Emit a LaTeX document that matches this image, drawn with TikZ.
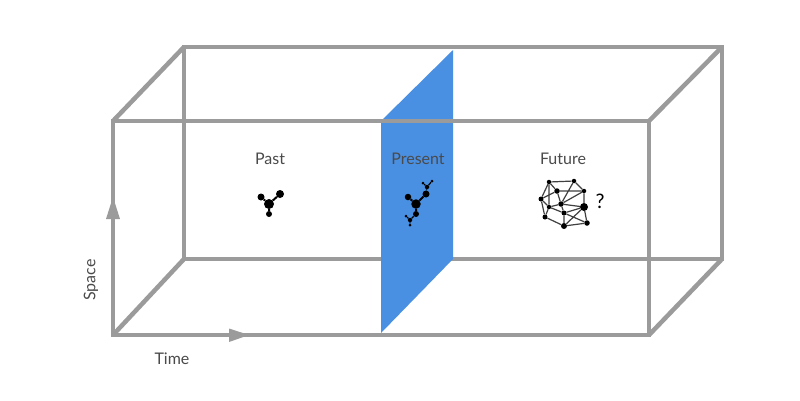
\documentclass[tikz,border=0pt]{standalone}
\usepackage{fontspec}
\setmainfont{Lato}
\definecolor{boxgray}{HTML}{9B9B9B}
\definecolor{planeblue}{HTML}{4A90E2}
\definecolor{labelgray}{HTML}{4A4A4A}
\tikzset{
  boxline/.style={draw=boxgray,line width=4.5pt,line join=miter},
  axishead/.style={fill=boxgray,draw=none},
  lbl/.style={text=labelgray,font=\fontsize{16}{18}\selectfont,inner sep=0pt},
  dot/.style={circle,fill=black,draw=none,inner sep=0pt,minimum size=#1},
  link/.style={draw=black,line width=#1},
  netlink/.style={draw=black!75,line width=1.2pt},
}
\begin{document}
\begin{tikzpicture}[x=1pt,y=-1pt]
\useasboundingbox (0,0) rectangle (800,400);
\fill[white] (0,0) rectangle (800,400);
% corners
\foreach \n/\x/\y in {fa/113/121,fb/649/121,fc/649/335,fd/113/335,ba/184/47,bb/722/47,bc/722/259,bd/184/259}
  \coordinate (\n) at (\x,\y);
% back and connecting edges
\draw[boxline] (ba) -- (bb) -- (bc) -- (bd) -- cycle;
\draw[boxline] (fa) -- (ba) (fb) -- (bb) (fc) -- (bc) (fd) -- (bd);
% plane
\coordinate (pa) at (381,121);
\coordinate (pb) at (453,50);
\coordinate (pc) at (453,259);
\coordinate (pd) at (381,333);
\fill[planeblue] (pa) -- (pb) -- (pc) -- (pd) -- cycle;
% front
\draw[boxline] (fa) -- (fb) -- (fc) -- (fd) -- cycle;
% arrow heads
\fill[axishead] (113,197) -- (120,219) -- (106,219) -- cycle;
\fill[axishead] (249,335) -- (229,328.5) -- (229,342) -- cycle;
% labels
\node[lbl] (past) at (270,158.5) {Past};
\node[lbl] (present) at (418,158.5) {Present};
\node[lbl] (future) at (563,158.5) {Future};
\node[lbl,text=black,font=\fontsize{20}{22}\selectfont] (qm) at (600,201) {?};
\node[lbl,rotate=90] (space) at (91,280) {Space};
\node[lbl] (time) at (172,358.5) {Time};
% past molecule
\node[dot=10pt] (p0) at (269,204) {};
\node[dot=7pt] (p1) at (261,197) {};
\node[dot=8pt] (p2) at (280,194) {};
\node[dot=6pt] (p3) at (269,214) {};
\draw[link=2pt] (p0) -- (p1) (p0) -- (p2) (p0) -- (p3);
% present molecule
\node[dot=9.5pt] (m0) at (416,204) {};
\node[dot=6.5pt] (m1) at (408,197) {};
\node[dot=7pt] (m2) at (426,194) {};
\node[dot=6pt] (m3) at (416,214) {};
\node[dot=4.5pt] (m4) at (427,187) {};
\node[dot=3pt] (m5) at (423,183) {};
\node[dot=3pt] (m6) at (432,181) {};
\node[dot=4.5pt] (m7) at (410,220) {};
\node[dot=3pt] (m8) at (406,216) {};
\node[dot=3pt] (m9) at (410,225) {};
\draw[link=2pt] (m0) -- (m1) (m0) -- (m2) (m0) -- (m3);
\draw[link=1.2pt] (m2) -- (m4) -- (m5) (m4) -- (m6) (m3) -- (m7) -- (m8) (m7) -- (m9);
% future network
\foreach \n/\x/\y/\s in {f1/549/182/4.5pt,f2/574/181/4.5pt,f3/557/191/5.5pt,f4/584/191/4.5pt,f5/541/199/5pt,f6/561/204/5.5pt,f7/549/207/4.5pt,f8/584/207/8pt,f9/564/213/5pt,f10/545/217/5pt,f11/564/226/6pt,f12/587/223/5.5pt}
  \node[dot=\s] (\n) at (\x,\y) {};
\draw[netlink] (f1) -- (f2) -- (f4) -- (f8) -- (f12) -- (f11) -- (f10) -- (f5) -- (f1);
\draw[netlink] (f1) -- (f3) -- (f5) (f1) -- (f7) (f3) -- (f4) (f3) -- (f6) (f2) -- (f6) (f6) -- (f7) -- (f5) (f7) -- (f10) (f7) -- (f9) (f6) -- (f9) (f6) -- (f8) (f9) -- (f11) (f9) -- (f8) (f9) -- (f12) (f4) -- (f6) (f11) -- (f8);
\end{tikzpicture}
\end{document}
